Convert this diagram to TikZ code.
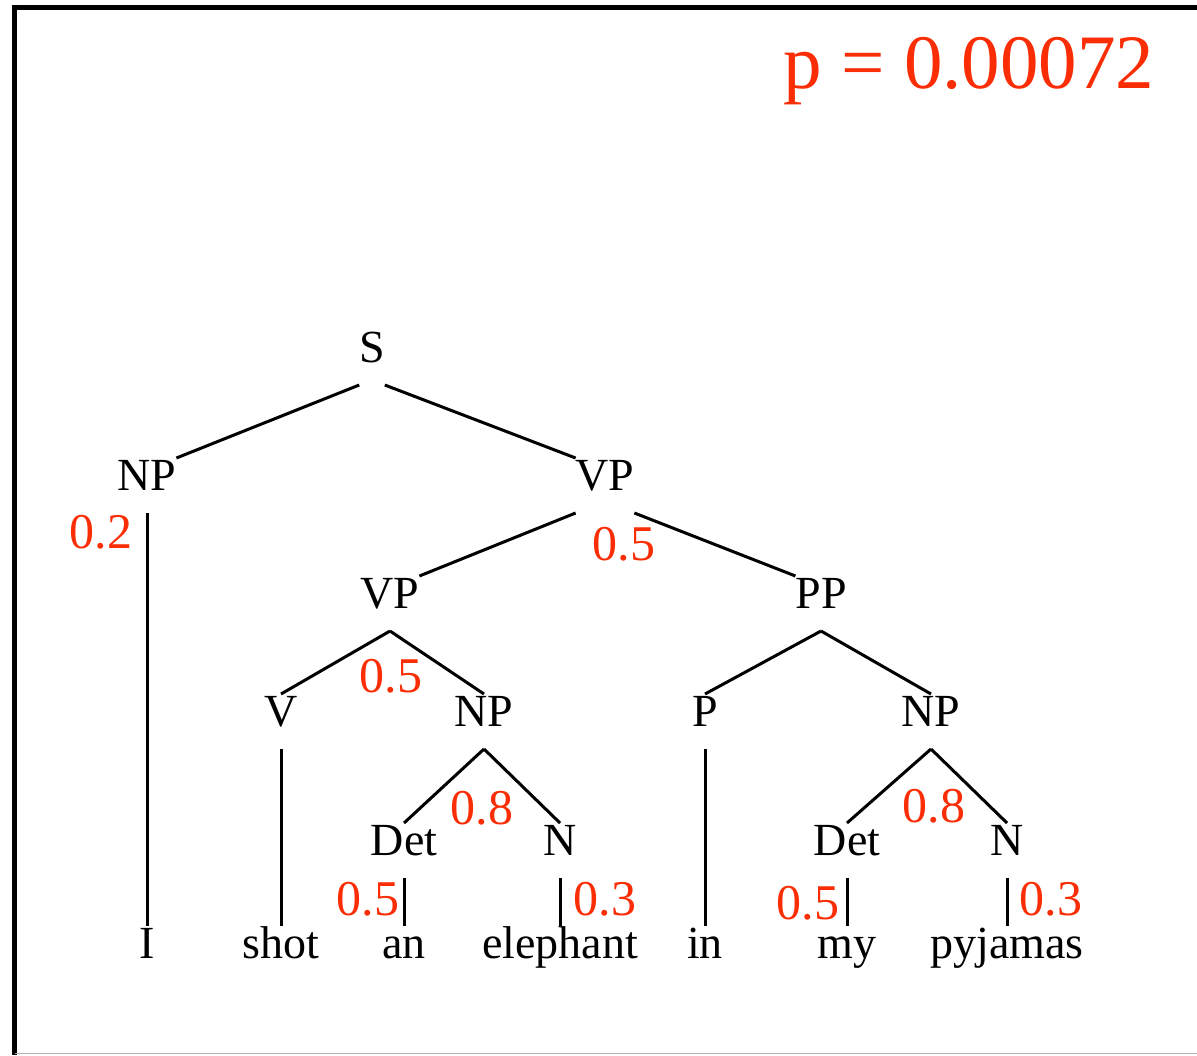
\documentclass[tikz,border=0pt]{standalone}
\usepackage{fontspec}
\setmainfont{Liberation Serif}
\usepackage{tikz}
\definecolor{probred}{RGB}{250,45,5}
\newcommand{\catsize}{\fontsize{23}{27}\selectfont}
\newcommand{\probsize}{\fontsize{25}{30}\selectfont}
\newcommand{\titlesize}{\fontsize{38.5}{46}\selectfont}
\newcommand{\branchw}{1.5pt}

\begin{document}
\begin{tikzpicture}[x=0.5pt,y=-0.5pt]
        \useasboundingbox (0,0) rectangle (1197,1055);
        % frame
        \draw[line width=2.7pt] (14.5,1055) -- (14.5,7.5) -- (1197,7.5);
        \draw[gray!60, line width=0.75pt] (14.5,1053.5) -- (1197,1053.5);
        \begin{scope}
        %\draw[help lines] (0,0) grid[step=100] (1197,1055);
            \tikzset{cat/.style = {anchor=base, inner sep=0pt, outer sep=0pt, text height=16pt, text depth=11.5pt, font=\catsize}}
            \tikzset{prob/.style = {anchor=base, inner sep=0pt, text=probred, font=\probsize}}
            \tikzset{branch/.style = {line width=\branchw}}

            \node[cat] (s) at (372,362) {S};
            \node[cat] (np1) at (147,490) {NP};
            \node[cat] (vp1) at (605,490) {VP};
            \node[cat] (vp2) at (390,608) {VP};
            \node[cat] (pp) at (821,608) {PP};
            \node[cat] (v) at (281,726) {V};
            \node[cat] (np2) at (484,726) {NP};
            \node[cat] (p) at (705,726) {P};
            \node[cat] (np3) at (931,726) {NP};
            \node[cat] (det1) at (404,855) {Det};
            \node[cat] (n1) at (560,855) {N};
            \node[cat] (det2) at (847,855) {Det};
            \node[cat] (n2) at (1007,855) {N};

            \node[cat] (wI) at (147,958) {I};
            \node[cat] (wshot) at (281,958) {shot};
            \node[cat] (wan) at (404,958) {an};
            \node[cat] (welephant) at (560,958) {elephant};
            \node[cat] (win) at (705,958) {in};
            \node[cat] (wmy) at (847,958) {my};
            \node[cat] (wpyjamas) at (1007,958) {pyjamas};

            \draw[branch] (s.south west) -- (np1.north east);
            \draw[branch] (s.south east) -- (vp1.north west);
            \draw[branch] (np1.south) -- (wI.north);
            \draw[branch] (vp1.south west) -- (vp2.north east);
            \draw[branch] (vp1.south east) -- (pp.north west);

            \draw[branch] (vp2.south) -- (v.north);
            \draw[branch] (vp2.south) -- (np2.north);
            \draw[branch] (pp.south) -- (p.north);
            \draw[branch] (pp.south) -- (np3.north);

            \draw[branch] (v.south) -- (wshot.north);
            \draw[branch] (np2.south) -- (det1.north);
            \draw[branch] (np2.south) -- (n1.north);
            \draw[branch] (p.south) -- (win.north);
            \draw[branch] (np3.south) -- (det2.north);
            \draw[branch] (np3.south) -- (n2.north);

            \draw[branch] (det1.south) -- (wan.north);
            \draw[branch] (n1.south) -- (welephant.north);
            \draw[branch] (det2.south) -- (wmy.north);
            \draw[branch] (n2.south) -- (wpyjamas.north);

            \node[prob] (pr-np1) at (101,548) {0.2};
            \node[prob] (pr-vp1) at (624,560) {0.5};
            \node[prob] (pr-vp2) at (391,692) {0.5};
            \node[prob] (pr-np2) at (482,824) {0.8};
            \node[prob] (pr-np3) at (934,822) {0.8};
            \node[prob] (pr-det1) at (368,915) {0.5};
            \node[prob] (pr-n1) at (605,915) {0.3};
            \node[prob] (pr-det2) at (808,919) {0.5};
            \node[prob] (pr-n2) at (1051,915) {0.3};

            \node[prob, font=\titlesize] (total) at (969,88) {p = 0.00072};
        \end{scope}
    \end{tikzpicture}
\end{document}
